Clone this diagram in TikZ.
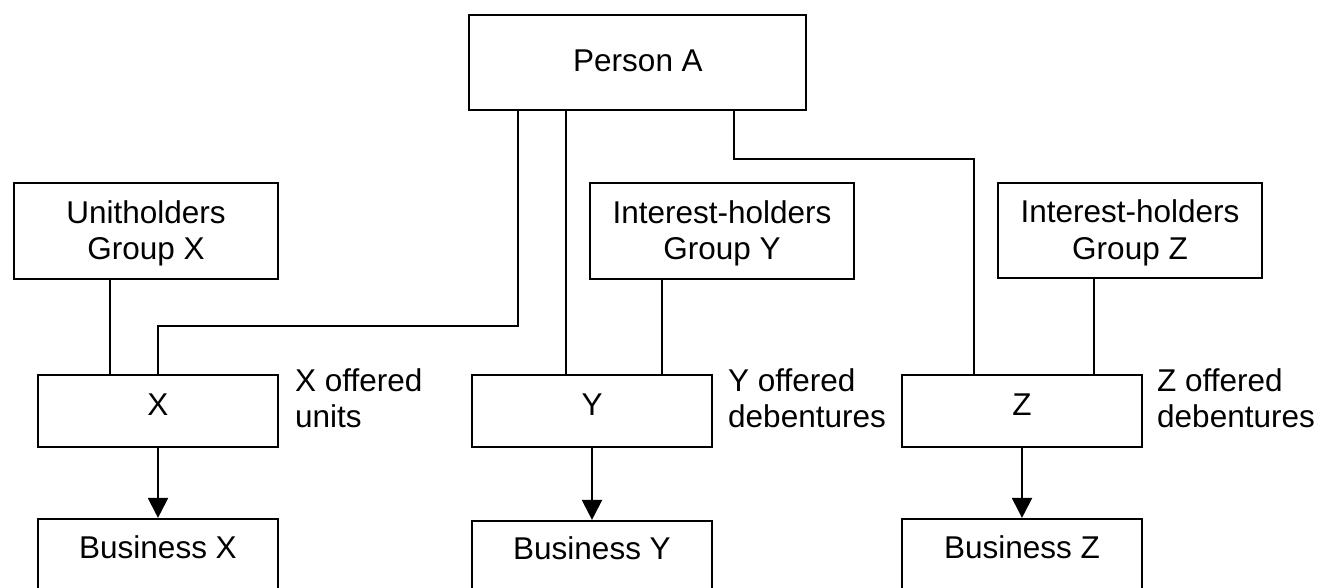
\documentclass[tikz,border=0pt]{standalone}
\usepackage{fontspec}
\setmainfont{Liberation Sans}
\usetikzlibrary{arrows.meta}
\begin{document}
\begin{tikzpicture}[x=1pt,y=-1pt,
  box/.style={draw, line width=2.2pt, rectangle, inner sep=0pt},
  txt/.style={inner sep=0pt, font=\fontsize{31.5}{36}\selectfont, align=center, anchor=base},
  lbl/.style={inner sep=0pt, font=\fontsize{31.5}{36}\selectfont, align=left, anchor=base west},
  link/.style={line width=2.2pt},
  arr/.style={line width=2.2pt, -{Triangle[width=20pt,length=20pt]}}]
\useasboundingbox (0,0) rectangle (1320,587);
% boxes
\node[box, minimum width=337pt, minimum height=95pt] (pa) at (637.5,62.5) {};
\node[box, minimum width=264pt, minimum height=96pt] (ug) at (146,231) {};
\node[box, minimum width=264pt, minimum height=96pt] (iy) at (722,231) {};
\node[box, minimum width=264pt, minimum height=95pt] (iz) at (1130,230.5) {};
\node[box, minimum width=240pt, minimum height=72pt] (bx) at (158,411) {};
\node[box, minimum width=240pt, minimum height=72pt] (by) at (592,411) {};
\node[box, minimum width=240pt, minimum height=72pt] (bz) at (1022,411) {};
\node[box, minimum width=240pt, minimum height=86pt] (busx) at (158,562) {};
\node[box, minimum width=240pt, minimum height=84pt] (busy) at (592,563) {};
\node[box, minimum width=240pt, minimum height=86pt] (busz) at (1022,562) {};
% texts
\node[txt] (paT) at (638,71) {Person A};
\node[txt] (ugT1) at (146,223) {Unitholders};
\node[txt] (ugT2) at (146,259) {Group X};
\node[txt] (iyT1) at (722,223) {Interest-holders};
\node[txt] (iyT2) at (722,259) {Group Y};
\node[txt] (izT1) at (1130,222) {Interest-holders};
\node[txt] (izT2) at (1130,259) {Group Z};
\node[txt] (bxT) at (158,415) {X};
\node[txt] (byT) at (592,415) {Y};
\node[txt] (bzT) at (1022,415) {Z};
\node[txt] (busxT) at (158,558) {Business X};
\node[txt] (busyT) at (592,559) {Business Y};
\node[txt] (buszT) at (1022,558) {Business Z};
\node[lbl] (lx1) at (295,391) {X offered};
\node[lbl] (lx2) at (295,427) {units};
\node[lbl] (ly1) at (728,391) {Y offered};
\node[lbl] (ly2) at (728,427) {debentures};
\node[lbl] (lz1) at (1157,391) {Z offered};
\node[lbl] (lz2) at (1157,427) {debentures};
% connectors
\coordinate (j1) at (518,326);
\coordinate (c2) at (566,0);
\coordinate (j3) at (734,159);
\coordinate (j4) at (974,159);
\coordinate (cu) at (110,0);
\coordinate (cy) at (662,0);
\coordinate (cz) at (1094,0);
\draw[link] (pa.south -| j1) -- (j1) -| (bx.north);
\draw[link] (pa.south -| c2) -- (by.north -| c2);
\draw[link] (pa.south -| j3) -- (j3) -- (j4) -- (bz.north -| j4);
\draw[link] (ug.south -| cu) -- (bx.north -| cu);
\draw[link] (iy.south -| cy) -- (by.north -| cy);
\draw[link] (iz.south -| cz) -- (bz.north -| cz);
\draw[arr] (bx.south) -- (busx.north);
\draw[arr] (by.south -| busy.north) -- (busy.north);
\draw[arr] (bz.south) -- (busz.north);
\end{tikzpicture}
\end{document}
